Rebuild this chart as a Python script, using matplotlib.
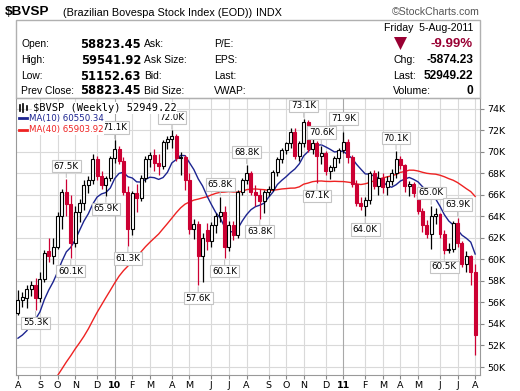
import numpy as np
import pandas as pd
import matplotlib
matplotlib.use('Agg')
import matplotlib.pyplot as plt
from matplotlib.patches import Rectangle, Polygon

# $BVSP weekly candles (thousands), one per week, weeks starting Mon 3-Aug-2009
opens = [55.0, 56.2, 56.4, 57.3, 57.6, 56.4, 58.2, 60.8, 60.3, 61.2,
         64.0, 66.3, 65.2, 61.5, 64.4, 65.3, 66.9, 67.4, 69.3, 67.8,
         66.9, 67.6, 69.4, 70.3, 69.2, 66.3, 62.8, 66.2, 65.7, 67.6,
         69.3, 69.7, 69.0, 68.7, 70.9, 71.2, 71.5, 69.4, 69.5, 67.4,
         62.8, 63.3, 60.3, 62.7, 61.7, 63.2, 64.0, 64.4, 61.2, 63.2,
         62.3, 66.3, 67.4, 68.0, 66.3, 66.0, 65.4, 66.3, 66.6, 68.1,
         69.3, 70.2, 70.8, 71.9, 69.6, 70.8, 72.8, 70.3, 70.8, 69.6,
         69.9, 68.2, 68.6, 69.4, 70.2, 70.9, 69.5, 67.0, 65.3, 65.0,
         65.5, 68.0, 66.8, 67.6, 66.7, 67.3, 68.0, 69.3, 68.8, 66.8,
         67.0, 66.2, 64.5, 63.2, 62.4, 64.0, 64.2, 62.4, 60.9, 61.0,
         63.4, 61.5, 59.6, 60.3, 58.82345]
highs = [57.2, 57.0, 57.6, 58.0, 58.3, 58.8, 60.9, 62.0, 62.0, 64.4,
         66.6, 67.5, 66.0, 65.0, 65.6, 67.4, 67.8, 69.8, 69.6, 68.2,
         67.8, 69.6, 71.1, 70.6, 69.5, 66.8, 66.4, 67.0, 67.9, 69.6,
         70.0, 70.3, 69.8, 71.1, 71.5, 72.0, 71.7, 70.0, 69.7, 68.0,
         63.8, 63.6, 62.5, 63.4, 63.5, 64.3, 65.8, 65.0, 63.6, 63.6,
         66.5, 67.6, 68.8, 68.2, 66.9, 66.6, 66.5, 66.8, 68.3, 69.5,
         70.4, 70.9, 72.2, 72.2, 71.0, 73.1, 73.0, 71.2, 71.0, 70.6,
         70.1, 68.8, 69.6, 70.4, 71.9, 71.2, 69.7, 67.4, 65.8, 65.8,
         68.2, 68.3, 68.2, 68.0, 67.8, 68.4, 70.1, 69.6, 68.9, 67.3,
         67.2, 66.4, 64.8, 63.7, 65.0, 64.8, 64.3, 62.7, 61.5, 63.6,
         63.9, 61.7, 60.8, 60.4, 59.54192]
lows = [54.8, 55.6, 55.5, 56.6, 55.3, 56.0, 57.9, 59.8, 59.6, 61.0,
        62.8, 64.0, 60.1, 61.2, 63.5, 64.6, 66.2, 67.0, 67.4, 66.6,
        65.9, 67.3, 69.0, 68.9, 66.0, 61.3, 62.3, 64.4, 65.4, 67.2,
        68.6, 68.2, 67.9, 68.4, 70.3, 70.4, 69.2, 67.9, 66.5, 62.4,
        61.9, 57.6, 57.9, 60.9, 61.2, 62.5, 63.5, 60.1, 60.8, 61.8,
        62.0, 66.0, 67.0, 66.0, 65.0, 63.8, 64.3, 65.9, 66.4, 67.8,
        69.0, 69.8, 70.4, 69.3, 69.2, 70.5, 70.0, 69.8, 67.1, 68.9,
        67.9, 67.5, 68.2, 69.0, 69.9, 69.0, 66.7, 65.0, 64.6, 64.0,
        65.2, 66.6, 66.0, 66.2, 66.0, 66.9, 67.6, 68.4, 66.3, 65.9,
        65.8, 64.2, 62.6, 62.0, 61.0, 63.3, 62.0, 60.5, 60.6, 60.7,
        61.2, 59.3, 58.8, 57.6, 51.15263]
closes = [56.2, 56.5, 57.3, 57.6, 56.4, 58.2, 60.6, 60.3, 61.2, 64.0,
          66.3, 65.2, 61.5, 64.4, 65.3, 66.9, 67.4, 69.3, 67.8, 66.9,
          67.6, 69.4, 70.3, 69.2, 66.3, 62.8, 66.2, 65.7, 67.6, 69.3,
          69.7, 69.0, 68.7, 70.9, 71.2, 71.5, 69.4, 69.5, 67.4, 62.8,
          63.3, 60.3, 62.0, 61.7, 63.2, 64.0, 64.4, 61.2, 63.2, 62.3,
          66.3, 67.4, 68.0, 66.3, 66.0, 65.4, 66.3, 66.6, 68.1, 69.3,
          70.2, 70.8, 71.9, 69.6, 70.8, 72.8, 70.3, 70.8, 69.6, 69.9,
          68.2, 68.6, 69.4, 70.2, 70.9, 69.5, 67.0, 65.3, 65.0, 65.5,
          68.0, 66.8, 67.6, 66.7, 67.3, 68.0, 69.3, 68.8, 66.8, 67.0,
          66.2, 64.5, 63.2, 62.4, 64.0, 64.2, 62.4, 60.9, 61.0, 63.4,
          61.5, 59.6, 60.3, 58.82345, 52.94922]
# 39 weekly closes before the first candle (Nov-2008 .. Jul-2009), for the MAs
prior_closes = [37.0, 35.5, 33.5, 36.6, 36.0, 37.8, 39.1, 37.6, 40.2, 41.2,
                39.8, 38.1, 39.3, 42.4, 42.6, 39.9, 38.2, 37.3, 39.3, 40.1,
                42.6, 42.9, 43.8, 45.8, 45.9, 47.4, 50.3, 48.5, 50.5, 53.2,
                53.6, 53.3, 51.3, 51.9, 51.4, 49.2, 51.4, 53.7, 54.8]

# labelled peaks / troughs: (week index, 'H' or 'L')
marks = [(4, 'L'), (11, 'H'), (12, 'L'), (20, 'L'), (22, 'H'), (25, 'L'),
         (35, 'H'), (41, 'L'), (46, 'H'), (47, 'L'), (52, 'H'), (55, 'L'),
         (65, 'H'), (68, 'L'), (69, 'H'), (74, 'H'), (79, 'L'), (86, 'H'),
         (94, 'H'), (97, 'L'), (100, 'H')]

weeks = pd.date_range('2009-08-03', periods=len(closes), freq='W-MON')
all_closes = pd.Series(prior_closes + closes)
ma10 = all_closes.rolling(10).mean().values[len(prior_closes):]
ma40 = all_closes.rolling(40).mean().values[len(prior_closes):]

W, H = 520, 391
def fx(x):
    return x / W
def fy(y):
    return 1 - y / H

RED = '#cc0033'
SANS = 'Liberation Sans'

fig = plt.figure(figsize=(W / 100, H / 100), dpi=100)
fig.patch.set_facecolor('white')

# ---- header ----
fig.text(fx(5), fy(12), '$BVSP', fontsize=9.7, fontweight='bold', family=SANS,
         va='center', parse_math=False)
fig.text(fx(63), fy(12.5), '(Brazilian Bovespa Stock Index (EOD))', fontsize=7.8,
         family=SANS, va='center')
fig.text(fx(256), fy(12.5), 'INDX', fontsize=7.8, family=SANS, va='center')
fig.text(fx(480), fy(12), '\u00a9StockCharts.com', fontsize=7.6, family=SANS,
         va='center', ha='right', color='#555555')

fig.add_artist(Rectangle((fx(16), fy(98)), (480 - 16) / W, (98 - 20) / H,
                         transform=fig.transFigure, fill=False, ec='#b0b0b0', lw=1))

rows_y = [44, 60, 76, 91]
left_labels = ['Open:', 'High:', 'Low:', 'Prev Close:']
left_values = ['58823.45', '59541.92', '51152.63', '58823.45']
mid_labels = ['Ask:', 'Ask Size:', 'Bid:', 'Bid Size:']
far_labels = ['P/E:', 'EPS:', 'Last:', 'VWAP:']
for y, a, v, b, c in zip(rows_y, left_labels, left_values, mid_labels, far_labels):
    fig.text(fx(21), fy(y), a, fontsize=7.4, family=SANS, va='center')
    fig.text(fx(141), fy(y), v, fontsize=8.3, fontweight='bold', family='DejaVu Sans',
             va='center', ha='right')
    fig.text(fx(144), fy(y), b, fontsize=7.4, family=SANS, va='center')
    fig.text(fx(214), fy(y), c, fontsize=7.4, family=SANS, va='center')

fig.text(fx(473), fy(28), 'Friday  5-Aug-2011', fontsize=7.6, family=SANS,
         va='center', ha='right')
fig.add_artist(Polygon([[fx(394), fy(37)], [fx(407), fy(37)], [fx(400.5), fy(50)]],
                       closed=True, transform=fig.transFigure, fc='#990033', ec='none'))
fig.text(fx(473), fy(44), '-9.99%', fontsize=9.5, fontweight='bold', family=SANS,
         va='center', ha='right', color='#990033')
right_labels = ['Chg:', 'Last:', 'Volume:']
right_values = ['-5874.23', '52949.22', '0']
for y, a, v in zip(rows_y[1:], right_labels, right_values):
    fig.text(fx(393), fy(y), a, fontsize=7.6, family=SANS, va='center')
    fig.text(fx(473), fy(y), v, fontsize=8.6, fontweight='bold', family=SANS,
             va='center', ha='right')

# ---- price panel ----
ax = fig.add_axes([fx(16), fy(375), (480 - 16) / W, (375 - 98) / H])
ax.set_xlim(-0.45, 105.1)
ax.set_ylim(49.256, 75.02)

yt = np.arange(50, 75, 2)
for v in yt:
    ax.axhline(v, color='#d9d9d9', lw=0.8, zorder=0)

month_idx, month_lab = [0], ['A']
for i in range(1, len(weeks)):
    if weeks[i].month != weeks[i - 1].month:
        month_idx.append(i)
        month_lab.append(weeks[i].strftime('%y') if weeks[i].month == 1
                         else weeks[i].strftime('%b')[0])
for i, lab in zip(month_idx, month_lab):
    if i == 0:
        continue
    ax.axvline(i, color='#a8a8a8' if lab.isdigit() else '#d9d9d9', lw=0.8, zorder=0)

x = np.arange(len(closes))
ax.plot(x, ma40, color='#ee2222', lw=1.0, zorder=2)
ax.plot(x, ma10, color='#1c2490', lw=1.0, zorder=2)

bw = 0.68
for i in range(len(closes)):
    o, h, l, c = opens[i], highs[i], lows[i], closes[i]
    up = c >= o
    col = 'black' if up else RED
    ax.plot([i, i], [l, h], color=col, lw=0.9, zorder=3, solid_capstyle='butt')
    ax.add_patch(Rectangle((i - bw / 2, min(o, c)), bw, max(abs(c - o), 0.06),
                           fc='white' if up else RED, ec=col, lw=0.8, zorder=4))

for i, kind in marks:
    v = highs[i] if kind == 'H' else lows[i]
    off = 6 if kind == 'H' else -6
    ax.annotate(f'{v:.1f}K', xy=(i, v), xytext=(0, off), textcoords='offset points',
                ha='center', va='bottom' if kind == 'H' else 'top', fontsize=6.3,
                family='DejaVu Sans', zorder=6,
                bbox=dict(boxstyle='square,pad=0.2', fc='white', ec='#c4c4c4', lw=0.8),
                arrowprops=dict(arrowstyle='-', color='#c4c4c4', lw=0.8,
                                shrinkA=0, shrinkB=1))

# legend
ax.text(0.036, 0.964, '$BVSP (Weekly) 52949.22', transform=ax.transAxes,
        fontsize=7.5, family='DejaVu Sans Mono', va='center', zorder=7,
        parse_math=False, bbox=dict(boxstyle='square,pad=0.1', fc='white', ec='none'))
for dx, top, bot in [(0.009, 0.975, 0.952), (0.016, 0.978, 0.950), (0.023, 0.972, 0.955)]:
    ax.plot([dx, dx], [bot, top], transform=ax.transAxes, color='black', lw=1.2, zorder=8)
ax.text(0.028, 0.926, 'MA(10) 60550.34', transform=ax.transAxes, fontsize=6.2,
        color='#1c2490', va='center', zorder=7,
        bbox=dict(boxstyle='square,pad=0.1', fc='white', ec='none'))
ax.plot([0.006, 0.024], [0.926, 0.926], transform=ax.transAxes, color='#1c2490',
        lw=2, zorder=8)
ax.text(0.028, 0.886, 'MA(40) 65903.92', transform=ax.transAxes, fontsize=6.2,
        color='#ee2222', va='center', zorder=7,
        bbox=dict(boxstyle='square,pad=0.1', fc='white', ec='none'))
ax.plot([0.006, 0.024], [0.886, 0.886], transform=ax.transAxes, color='#ee2222',
        lw=2, zorder=8)

ax.yaxis.tick_right()
ax.set_yticks(yt)
ax.set_yticklabels([f'{v}K' for v in yt])
ax.set_xticks(month_idx)
ax.set_xticklabels(month_lab)
for t, lab in zip(ax.get_xticklabels(), month_lab):
    if lab.isdigit():
        t.set_fontweight('bold')
        t.set_fontsize(7.8)
ax.tick_params(axis='y', labelsize=6.8, length=3, color='#888888', pad=2)
ax.tick_params(axis='x', labelsize=6.8, length=3, color='#888888', pad=1)
for s in ax.spines.values():
    s.set_color('#999999')
    s.set_linewidth(0.8)

fig.savefig('out.png', dpi=100)
